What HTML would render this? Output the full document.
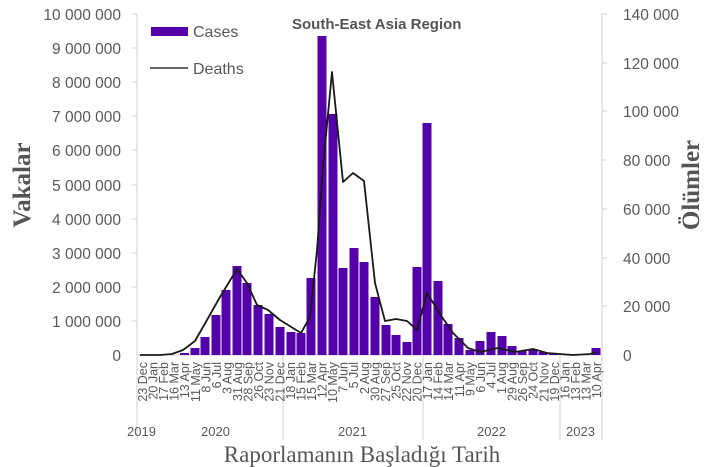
<!DOCTYPE html>
<html><head><meta charset="utf-8"><style>
html,body{margin:0;padding:0;background:#fff;}
svg{display:block;}
text{font-family:"Liberation Sans",sans-serif;}
text.serif{font-family:"Liberation Serif",serif;}
</style></head><body>
<svg width="710" height="467" viewBox="0 0 710 467" xmlns="http://www.w3.org/2000/svg">
<g stroke="#d9d9d9" stroke-width="1.2">
<line x1="137" y1="14" x2="137" y2="440"/>
<line x1="602" y1="14" x2="602" y2="440"/>
<line x1="283" y1="355" x2="283" y2="440"/>
<line x1="423" y1="355" x2="423" y2="440"/>
<line x1="560" y1="355" x2="560" y2="440"/>
<line x1="137" y1="355" x2="602" y2="355"/>
<line x1="132" y1="14" x2="137" y2="14"/><line x1="132" y1="48" x2="137" y2="48"/><line x1="132" y1="82" x2="137" y2="82"/><line x1="132" y1="116" x2="137" y2="116"/><line x1="132" y1="150" x2="137" y2="150"/><line x1="132" y1="185" x2="137" y2="185"/><line x1="132" y1="219" x2="137" y2="219"/><line x1="132" y1="253" x2="137" y2="253"/><line x1="132" y1="287" x2="137" y2="287"/><line x1="132" y1="321" x2="137" y2="321"/>
<line x1="602" y1="14" x2="607" y2="14"/><line x1="602" y1="63" x2="607" y2="63"/><line x1="602" y1="111" x2="607" y2="111"/><line x1="602" y1="160" x2="607" y2="160"/><line x1="602" y1="209" x2="607" y2="209"/><line x1="602" y1="258" x2="607" y2="258"/><line x1="602" y1="306" x2="607" y2="306"/>
</g>
<g fill="#595959" font-size="15.5" text-anchor="end">
<text x="121" y="20">10 000 000</text><text x="121" y="54">9 000 000</text><text x="121" y="88">8 000 000</text><text x="121" y="122">7 000 000</text><text x="121" y="156">6 000 000</text><text x="121" y="191">5 000 000</text><text x="121" y="225">4 000 000</text><text x="121" y="259">3 000 000</text><text x="121" y="293">2 000 000</text><text x="121" y="327">1 000 000</text><text x="121" y="361">0</text>
</g>
<g fill="#595959" font-size="15.5">
<text x="623" y="20">140 000</text><text x="623" y="69">120 000</text><text x="623" y="117">100 000</text><text x="623" y="166">80 000</text><text x="623" y="215">60 000</text><text x="623" y="264">40 000</text><text x="623" y="312">20 000</text><text x="623" y="361">0</text>
</g>
<g fill="#5400a8">
<rect x="180" y="353" width="9" height="2"/>
<rect x="190.5" y="348" width="9" height="7"/>
<rect x="200.5" y="337" width="9" height="18"/>
<rect x="211.5" y="315" width="9" height="40"/>
<rect x="221.5" y="290" width="9" height="65"/>
<rect x="232.5" y="266" width="9" height="89"/>
<rect x="242.5" y="283" width="9" height="72"/>
<rect x="253.5" y="305" width="9" height="50"/>
<rect x="264.5" y="314" width="9" height="41"/>
<rect x="275.5" y="327" width="9" height="28"/>
<rect x="286.5" y="332" width="9" height="23"/>
<rect x="296.5" y="333" width="9" height="22"/>
<rect x="306.5" y="278" width="9" height="77"/>
<rect x="317.5" y="36" width="9" height="319"/>
<rect x="328.5" y="114" width="9" height="241"/>
<rect x="338.5" y="268" width="9" height="87"/>
<rect x="349.5" y="248" width="9" height="107"/>
<rect x="359.5" y="262" width="9" height="93"/>
<rect x="370.5" y="297" width="9" height="58"/>
<rect x="381.5" y="325" width="9" height="30"/>
<rect x="391.5" y="335" width="9" height="20"/>
<rect x="402.5" y="342" width="9" height="13"/>
<rect x="412.5" y="267" width="9" height="88"/>
<rect x="422.5" y="123" width="9" height="232"/>
<rect x="433.5" y="281" width="9" height="74"/>
<rect x="443.5" y="324" width="9" height="31"/>
<rect x="454.5" y="338" width="9" height="17"/>
<rect x="465.5" y="350" width="9" height="5"/>
<rect x="475.5" y="341" width="9" height="14"/>
<rect x="486.5" y="332" width="9" height="23"/>
<rect x="497.5" y="336" width="9" height="19"/>
<rect x="507.5" y="346" width="9" height="9"/>
<rect x="517.5" y="351" width="9" height="4"/>
<rect x="528.5" y="349" width="9" height="6"/>
<rect x="538.5" y="352" width="9" height="3"/>
<rect x="549" y="354" width="9" height="1"/>
<rect x="591.5" y="348" width="9" height="7"/>
</g>
<polyline fill="none" stroke="#1a1a1a" stroke-width="1.8" stroke-linejoin="round" points="140,355 160,355 172,354 183,350 195,341 207,320 220,297 237,269 247,283 257,305 268,310 280,320 301,333 310,317 317,250 323,167 332,72 343,182 353,173 364,181 375,283 385,321 396,319 407,321 417,330 427,293 442,317 453,333 468,348 480,352 498,348 515,352 533,349 547,353 573,355 590,354 597,352"/>
<rect x="151" y="27" width="37" height="9" fill="#5400a8"/>
<text x="193" y="37" font-size="16" fill="#595959">Cases</text>
<line x1="150" y1="68" x2="188" y2="68" stroke="#333" stroke-width="1.5"/>
<text x="193" y="74" font-size="16" fill="#595959">Deaths</text>
<text x="292" y="29" font-size="15" font-weight="bold" fill="#555">South-East Asia Region</text>
<g fill="#595959" font-size="12.5" text-anchor="end">
<text transform="translate(147,362) rotate(-90)">23 Dec</text>
<text transform="translate(157.6,362) rotate(-90)">20 Jan</text>
<text transform="translate(168.1,362) rotate(-90)">17 Feb</text>
<text transform="translate(178.7,362) rotate(-90)">16 Mar</text>
<text transform="translate(189.2,362) rotate(-90)">13 Apr</text>
<text transform="translate(199.8,362) rotate(-90)">11 May</text>
<text transform="translate(210.4,362) rotate(-90)">8 Jun</text>
<text transform="translate(220.9,362) rotate(-90)">6 Jul</text>
<text transform="translate(231.5,362) rotate(-90)">3 Aug</text>
<text transform="translate(242,362) rotate(-90)">31 Aug</text>
<text transform="translate(252.6,362) rotate(-90)">28 Sep</text>
<text transform="translate(263.2,362) rotate(-90)">26 Oct</text>
<text transform="translate(273.7,362) rotate(-90)">23 Nov</text>
<text transform="translate(284.3,362) rotate(-90)">21 Dec</text>
<text transform="translate(294.8,362) rotate(-90)">18 Jan</text>
<text transform="translate(305.4,362) rotate(-90)">15 Feb</text>
<text transform="translate(316,362) rotate(-90)">15 Mar</text>
<text transform="translate(326.5,362) rotate(-90)">12 Apr</text>
<text transform="translate(337.1,362) rotate(-90)">10 May</text>
<text transform="translate(347.6,362) rotate(-90)">7 Jun</text>
<text transform="translate(358.2,362) rotate(-90)">5 Jul</text>
<text transform="translate(368.8,362) rotate(-90)">2 Aug</text>
<text transform="translate(379.3,362) rotate(-90)">30 Aug</text>
<text transform="translate(389.9,362) rotate(-90)">27 Sep</text>
<text transform="translate(400.4,362) rotate(-90)">25 Oct</text>
<text transform="translate(411,362) rotate(-90)">22 Nov</text>
<text transform="translate(421.6,362) rotate(-90)">20 Dec</text>
<text transform="translate(432.1,362) rotate(-90)">17 Jan</text>
<text transform="translate(442.7,362) rotate(-90)">14 Feb</text>
<text transform="translate(453.2,362) rotate(-90)">14 Mar</text>
<text transform="translate(463.8,362) rotate(-90)">11 Apr</text>
<text transform="translate(474.4,362) rotate(-90)">9 May</text>
<text transform="translate(484.9,362) rotate(-90)">6 Jun</text>
<text transform="translate(495.5,362) rotate(-90)">4 Jul</text>
<text transform="translate(506,362) rotate(-90)">1 Aug</text>
<text transform="translate(516.6,362) rotate(-90)">29 Aug</text>
<text transform="translate(527.2,362) rotate(-90)">26 Sep</text>
<text transform="translate(537.7,362) rotate(-90)">24 Oct</text>
<text transform="translate(548.3,362) rotate(-90)">21 Nov</text>
<text transform="translate(558.8,362) rotate(-90)">19 Dec</text>
<text transform="translate(569.4,362) rotate(-90)">16 Jan</text>
<text transform="translate(580,362) rotate(-90)">13 Feb</text>
<text transform="translate(590.5,362) rotate(-90)">13 Mar</text>
<text transform="translate(601.1,362) rotate(-90)">10 Apr</text>
</g>
<g fill="#595959" font-size="13">
<text x="127" y="436">2019</text>
<text x="201" y="436">2020</text>
<text x="338" y="436">2021</text>
<text x="477" y="436">2022</text>
<text x="566" y="436">2023</text>
</g>
<text class="serif" x="362" y="462" font-size="23" text-anchor="middle" fill="#555">Raporlamanın Başladığı Tarih</text>
<text class="serif" transform="translate(30,185) rotate(-90)" font-size="25" font-weight="bold" text-anchor="middle" fill="#555">Vakalar</text>
<text class="serif" transform="translate(699,185) rotate(-90)" font-size="25" font-weight="bold" text-anchor="middle" fill="#555">Ölümler</text>
</svg>
</body></html>
